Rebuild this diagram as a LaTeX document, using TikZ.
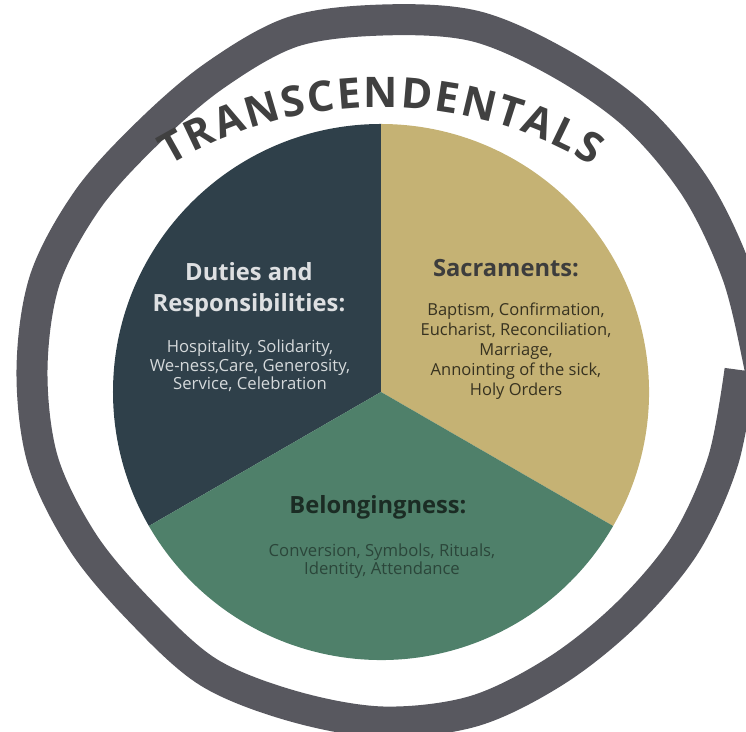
\documentclass[tikz,border=0pt]{standalone}
\usepackage{fontspec}
\setmainfont{Open Sans}
\usetikzlibrary{decorations.text}

\definecolor{ringgray}{HTML}{58585F}
\definecolor{slate}{HTML}{2F404A}
\definecolor{sand}{HTML}{C5B274}
\definecolor{sage}{HTML}{4F806A}
\definecolor{titlegray}{HTML}{404040}

\begin{document}
\begin{tikzpicture}
        [x=0.02cm, y=0.02cm,
         heading/.style={align=center, font=\fontsize{13.5}{17.6}\selectfont\bfseries},
         items/.style={align=center, font=\fontsize{9.5}{10.4}\selectfont}]
        \useasboundingbox (-381,-340) rectangle (365,392);
        \clip (-381,-340) rectangle (365,392);
        % hand drawn ring, open at the right
        \begin{scope}[shift={(2,22)}]
        \draw [ringgray, line width=0.62cm, line cap=butt, line join=round]
            plot [smooth, tension=0.55] coordinates {
                (0:357) (-15:352) (-30:349) (-45:345) (-60:347) (-75:353)
                (-90:352) (-105:348) (-120:349) (-135:342) (-150:346) (-165:352)
                (-180:351) (-195:350) (-210:341) (-225:334) (-240:339) (-255:350)
                (-270:350) (-285:356) (-300:354) (-315:358) (-330:362) (-345:367)
                (-359:376) (-362:378)};
        \end{scope}
        % pie
        \fill [slate] (0,0) -- (90:268) arc [start angle=90, end angle=210, radius=268] -- cycle;
        \fill [sand] (0,0) -- (-30:268) arc [start angle=-30, end angle=90, radius=268] -- cycle;
        \fill [sage] (0,0) -- (210:268) arc [start angle=210, end angle=330, radius=268] -- cycle;
        % title on the arc
        \path [decorate, decoration={text along path, text color=titlegray,
                text={|\fontsize{24}{24}\selectfont\bfseries|TRANSCENDENTALS},
                text align={fit to path}}]
            (0,-125) ++(121:410) arc [start angle=121, end angle=59, radius=410];
        % labels
        \node [heading, text=white!84!slate] (duties) at (-132,102) {Duties and\\Responsibilities:};
        \node [items, text=white!80!slate] (dutieslist) at (-131,26) {Hospitality, Solidarity,\\We-ness,Care, Generosity,\\Service, Celebration};
        \node [heading, text=black!76] (sacr) at (125,124) {Sacraments:};
        \node [items, font=\fontsize{9.4}{11.3}\selectfont, text=black!72!sand] (sacrlist) at (135,41) {Baptism, Confirmation,\\Eucharist, Reconciliation,\\Marriage,\\Annointing of the sick,\\Holy Orders};
        \node [heading, text=black!66!sage] (belong) at (-3,-115) {Belongingness:};
        \node [items, text=black!45!sage] (belonglist) at (1,-169) {Conversion, Symbols, Rituals,\\Identity, Attendance};
\end{tikzpicture}
\end{document}
